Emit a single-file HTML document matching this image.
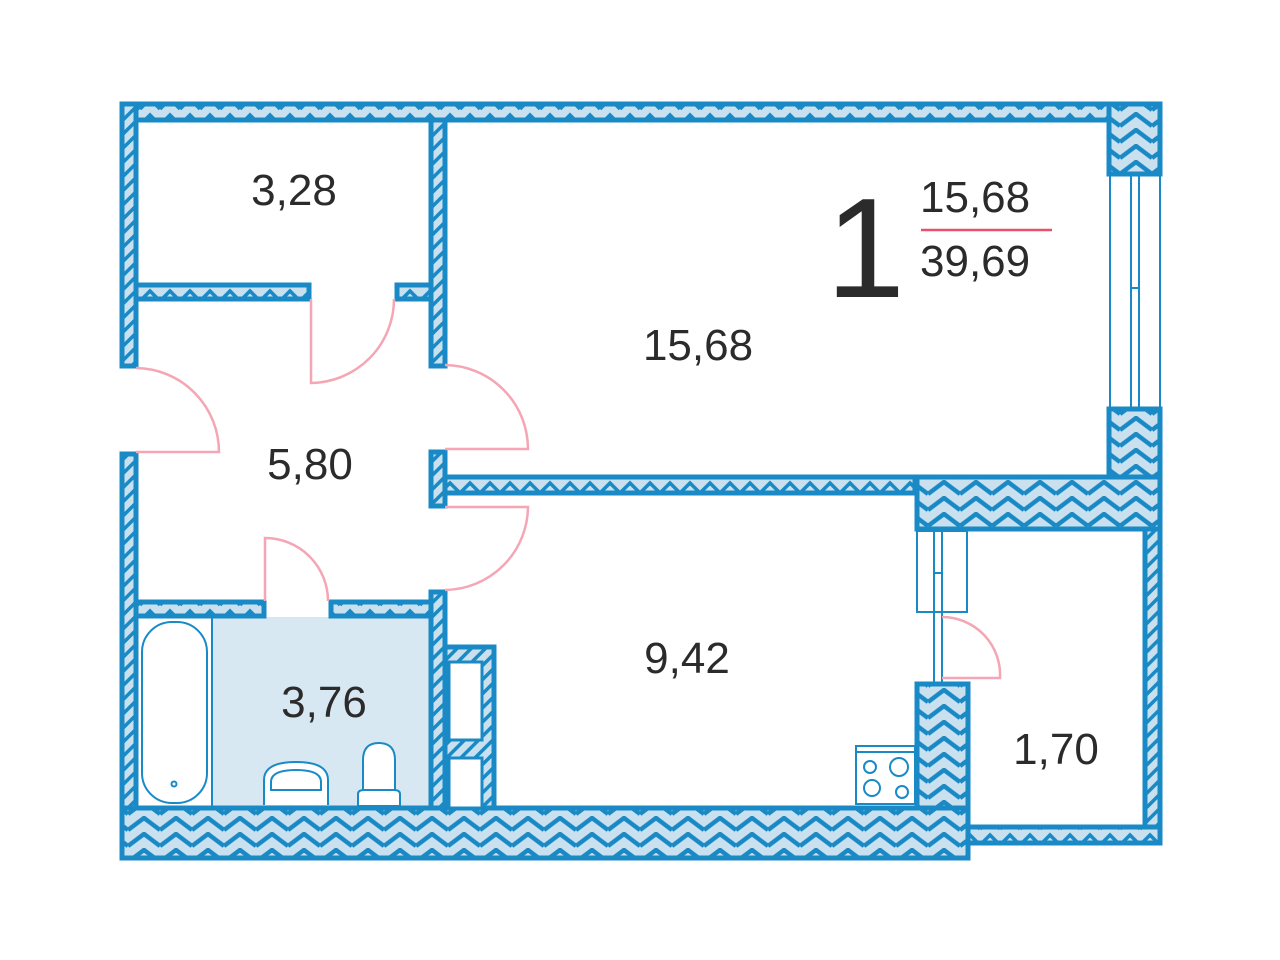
<!DOCTYPE html>
<html><head><meta charset="utf-8"><style>
html,body{margin:0;padding:0;background:#fff;}
svg{display:block;}
text{font-family:"Liberation Sans",Arial,sans-serif;fill:#2b2b2b;}
</style></head><body>
<svg width="1280" height="960" viewBox="0 0 1280 960" xmlns="http://www.w3.org/2000/svg">
<defs>
<pattern id="h" width="20" height="16" patternUnits="userSpaceOnUse">
<rect width="20" height="16" fill="#c9e0ef"/>
<path d="M0 13 L10 3 L20 13" fill="none" stroke="#1a8ac6" stroke-width="3.5"/>
</pattern>
<pattern id="H" width="32" height="16" patternUnits="userSpaceOnUse">
<rect width="32" height="16" fill="#c9e0ef"/>
<path d="M0 14 L16 2 L32 14" fill="none" stroke="#1a8ac6" stroke-width="4.5"/>
</pattern>
<pattern id="d" width="10" height="10" patternUnits="userSpaceOnUse" patternTransform="rotate(45)">
<rect width="10" height="10" fill="#c9e0ef"/>
<rect width="3.5" height="10" fill="#1a8ac6"/>
</pattern>
</defs>
<g stroke="#1a8ac6" stroke-width="5" stroke-linejoin="miter">
<rect x="213" y="617" width="217" height="191" fill="#d7e8f3" stroke="none"/>
<rect x="122" y="104" width="1038" height="16" fill="url(#h)"/>
<rect x="122" y="104" width="14" height="262" fill="url(#d)"/>
<rect x="122" y="454" width="14" height="404" fill="url(#d)"/>
<rect x="136" y="285" width="173" height="14" fill="url(#h)"/>
<rect x="397" y="285" width="34" height="14" fill="url(#h)"/>
<rect x="431" y="120" width="14" height="246" fill="url(#d)"/>
<rect x="431" y="452" width="14" height="54" fill="url(#d)"/>
<rect x="445" y="477" width="470" height="16" fill="url(#h)"/>
<rect x="431" y="592" width="14" height="216" fill="url(#d)"/>
<rect x="1109" y="104" width="51" height="70" fill="url(#H)"/>
<rect x="1109" y="409" width="51" height="120" fill="url(#H)"/>
<rect x="917" y="477" width="243" height="52" fill="url(#H)"/>
<rect x="1145" y="529" width="15" height="314" fill="url(#d)"/>
<rect x="968" y="827" width="192" height="16" fill="url(#h)"/>
<rect x="917" y="684" width="51" height="174" fill="url(#H)"/>
<rect x="136" y="602" width="128" height="14" fill="url(#h)"/>
<rect x="331" y="602" width="100" height="14" fill="url(#h)"/>
<rect x="122" y="808" width="846" height="50" fill="url(#H)"/>
<rect x="445" y="647" width="49" height="161" fill="url(#d)"/>
<rect x="449" y="662" width="33" height="78" fill="#fff" stroke-width="3"/>
<rect x="449" y="758" width="33" height="50" fill="#fff" stroke-width="3"/>
</g>
<g fill="none" stroke="#1a8ac6" stroke-width="2">
<rect x="1110" y="175" width="50" height="233"/>
<rect x="1131" y="175" width="8" height="233"/>
<line x1="1131" y1="288" x2="1139" y2="288"/>
<rect x="917" y="531" width="50" height="81"/>
<rect x="934" y="531" width="8" height="152"/>
<line x1="934" y1="573" x2="942" y2="573"/>
<rect x="142" y="622" width="65" height="181" rx="30"/>
<line x1="212" y1="617" x2="212" y2="808"/>
<circle cx="174" cy="784" r="2.5"/>
<path d="M264 805 L264 780 Q264 762 296 762 Q328 762 328 780 L328 805" fill="#fff"/>
<path d="M271 790 L271 782 Q271 770 296 770 Q321 770 321 782 L321 790 Z" fill="#fff"/>
<path d="M363 790 L363 760 Q363 743 379 743 Q395 743 395 760 L395 790 Z" fill="#fff"/>
<path d="M358 806 L358 794 Q358 790 364 790 L394 790 Q400 790 400 794 L400 806 Z" fill="#fff"/>
<rect x="856" y="746" width="59" height="58" fill="#fff"/>
<line x1="856" y1="752" x2="915" y2="752"/>
<circle cx="870" cy="767" r="6"/><circle cx="899" cy="767" r="9"/>
<circle cx="872" cy="788" r="8"/><circle cx="902" cy="792" r="6"/>
</g>
<g fill="none" stroke="#f4a6b5" stroke-width="2.5">
<path d="M136 368 A84 84 0 0 1 219 452 L136 452"/>
<path d="M311 299 L311 383 A84 84 0 0 0 394 299"/>
<path d="M445 365 A84 84 0 0 1 528 449 L445 449"/>
<path d="M445 507 L528 507 A84 84 0 0 1 445 590"/>
<path d="M265 601 L265 538 A63 63 0 0 1 328 601"/>
<path d="M942 617 A58 58 0 0 1 1000 678 L942 678"/>
</g>
<text x="294" y="205" font-size="44" text-anchor="middle">3,28</text>
<text x="698" y="360" font-size="44" text-anchor="middle">15,68</text>
<text x="310" y="479" font-size="44" text-anchor="middle">5,80</text>
<text x="687" y="673" font-size="44" text-anchor="middle">9,42</text>
<text x="324" y="717" font-size="44" text-anchor="middle">3,76</text>
<text x="1056" y="764" font-size="44" text-anchor="middle">1,70</text>
<text x="826" y="297" font-size="142">1</text>
<text x="920" y="212" font-size="44">15,68</text>
<line x1="921" y1="230" x2="1052" y2="230" stroke="#e8506e" stroke-width="2.5"/>
<text x="920" y="276" font-size="44">39,69</text>
</svg>
</body></html>
